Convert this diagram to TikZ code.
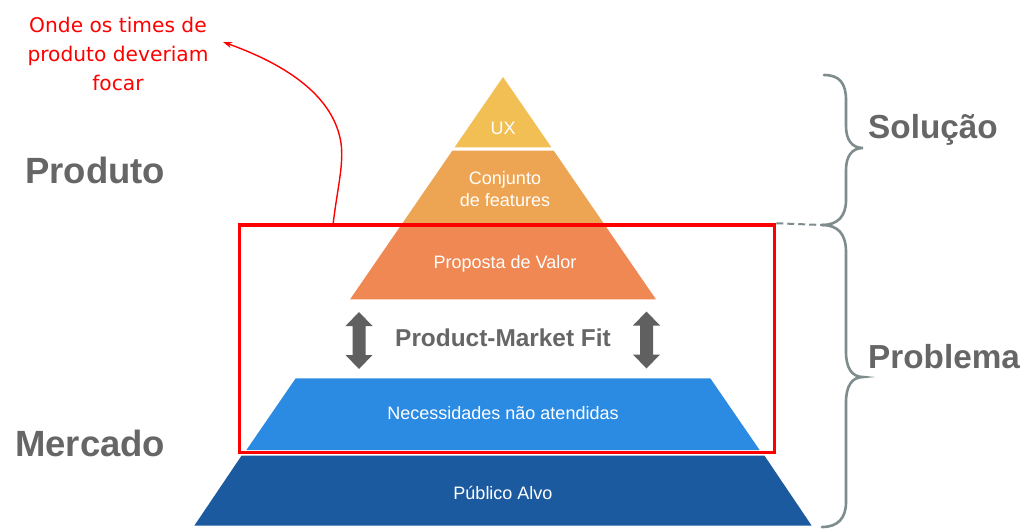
\documentclass[tikz,border=0pt]{standalone}
\usepackage{fontspec}
\setmainfont{Liberation Sans}
\newfontfamily\handfont{DejaVu Sans}
\usetikzlibrary{arrows.meta}
\definecolor{uxc}{HTML}{F2BF55}
\definecolor{conjc}{HTML}{EDA553}
\definecolor{propc}{HTML}{EF8853}
\definecolor{necc}{HTML}{2B8BE3}
\definecolor{pubc}{HTML}{1C5AA0}
\definecolor{txtgray}{HTML}{666666}
\definecolor{bracec}{HTML}{7F8C8D}
\definecolor{arrgray}{HTML}{606060}
\tikzset{
  layerlabel/.style={text=white, font=\fontsize{18}{22}\selectfont, align=center, inner sep=0},
  biglabel/.style={text=txtgray, font=\fontsize{36.5}{40}\selectfont\bfseries, anchor=west, inner sep=0},
  sidelabel/.style={text=txtgray, font=\fontsize{33.3}{36}\selectfont\bfseries, anchor=west, inner sep=0},
  bracestyle/.style={draw=bracec, line width=2.6pt, line cap=round},
  focusbox/.style={draw=red, line width=3.5pt},
  pmfarrow/.pic={\fill[arrgray] (0,-28.5) -- (13.5,-14.5) -- (6.5,-14.5) -- (6.5,14.5) -- (13.5,14.5) -- (0,28.5) -- (-13.5,14.5) -- (-6.5,14.5) -- (-6.5,-14.5) -- (-13.5,-14.5) -- cycle;}
}
\begin{document}
\begin{tikzpicture}[x=1pt,y=-1pt]
\useasboundingbox (0,0) rectangle (1024,530);
\fill[white] (0,0) rectangle (1024,530);
% pyramid layers
\fill[uxc] (503,77) -- (551.4,147.3) -- (454.6,147.3) -- cycle;
\fill[conjc] (452.3,150.7) -- (553.7,150.7) -- (604.8,225) -- (401.2,225) -- cycle;
\fill[propc] (401.2,225) -- (604.8,225) -- (655.9,299.3) -- (350.1,299.3) -- cycle;
\fill[necc] (295.7,378.3) -- (710.3,378.3) -- (759.6,450) -- (246.4,450) -- cycle;
\fill[pubc] (241.5,455.7) -- (764.5,455.7) -- (811.7,525.7) -- (194.3,525.7) -- cycle;
% layer labels
\node[layerlabel] (ux) at (503,128) {UX};
\node[layerlabel] (conj) at (505,189) {Conjunto\\de features};
\node[layerlabel] (prop) at (505,264) {Proposta de Valor};
\node[layerlabel] (nec) at (503,413) {Necessidades não atendidas};
\node[layerlabel] (pub) at (503,493) {Público Alvo};
% product-market fit
\pic (arrL) at (359,340.5) {pmfarrow};
\pic (arrR) at (646.5,340) {pmfarrow};
\node[text=txtgray, font=\fontsize{24.4}{28}\selectfont\bfseries, inner sep=0] (pmf) at (503,338) {Product-Market Fit};
% focus box
\node[focusbox, minimum width=535pt, minimum height=227.5pt, inner sep=0] (focus) at (507,338.75) {};
% side labels
\node[biglabel] (produto) at (25,170) {Produto};
\node[biglabel] (mercado) at (15,443) {Mercado};
\node[sidelabel] (solucao) at (868,130) {Solução};
\node[sidelabel] (problema) at (868,357) {Problema};
% braces
\coordinate (b1) at (824,75);
\coordinate (b2) at (822,225);
\coordinate (b3) at (822,527);
\draw[bracestyle] (b1) .. controls (840,75) and (846,84) .. (846,100) -- (846,126) .. controls (846,140) and (852,148) .. (863,148) .. controls (852,148) and (846,156) .. (846,170) -- (846,200) .. controls (846,216) and (838,225) .. (b2);
\draw[bracestyle] (b2) .. controls (838,225) and (846,234) .. (846,252) -- (846,352) .. controls (846,368) and (852,377) .. (863,377) .. controls (852,377) and (846,386) .. (846,402) -- (846,502) .. controls (846,518) and (838,527) .. (b3);
\draw[bracec, line width=2pt, dash pattern=on 7pt off 4pt] (focus.north east) -- (b2);
% annotation
\node[text=red, font=\handfont\fontsize{20.2}{29}\selectfont, align=center, inner sep=0] (note) at (118,54) {Onde os times de\\produto deveriam\\focar};
\coordinate (arrstart) at (333,225);
\coordinate (arrtip) at (223,42);
\draw[red, line width=1.4pt, -{Stealth[length=9pt,width=6pt]}] (arrstart) .. controls (337,190) and (344,165) .. (341,143) .. controls (334,98) and (290,66) .. (arrtip);
\end{tikzpicture}
\end{document}
